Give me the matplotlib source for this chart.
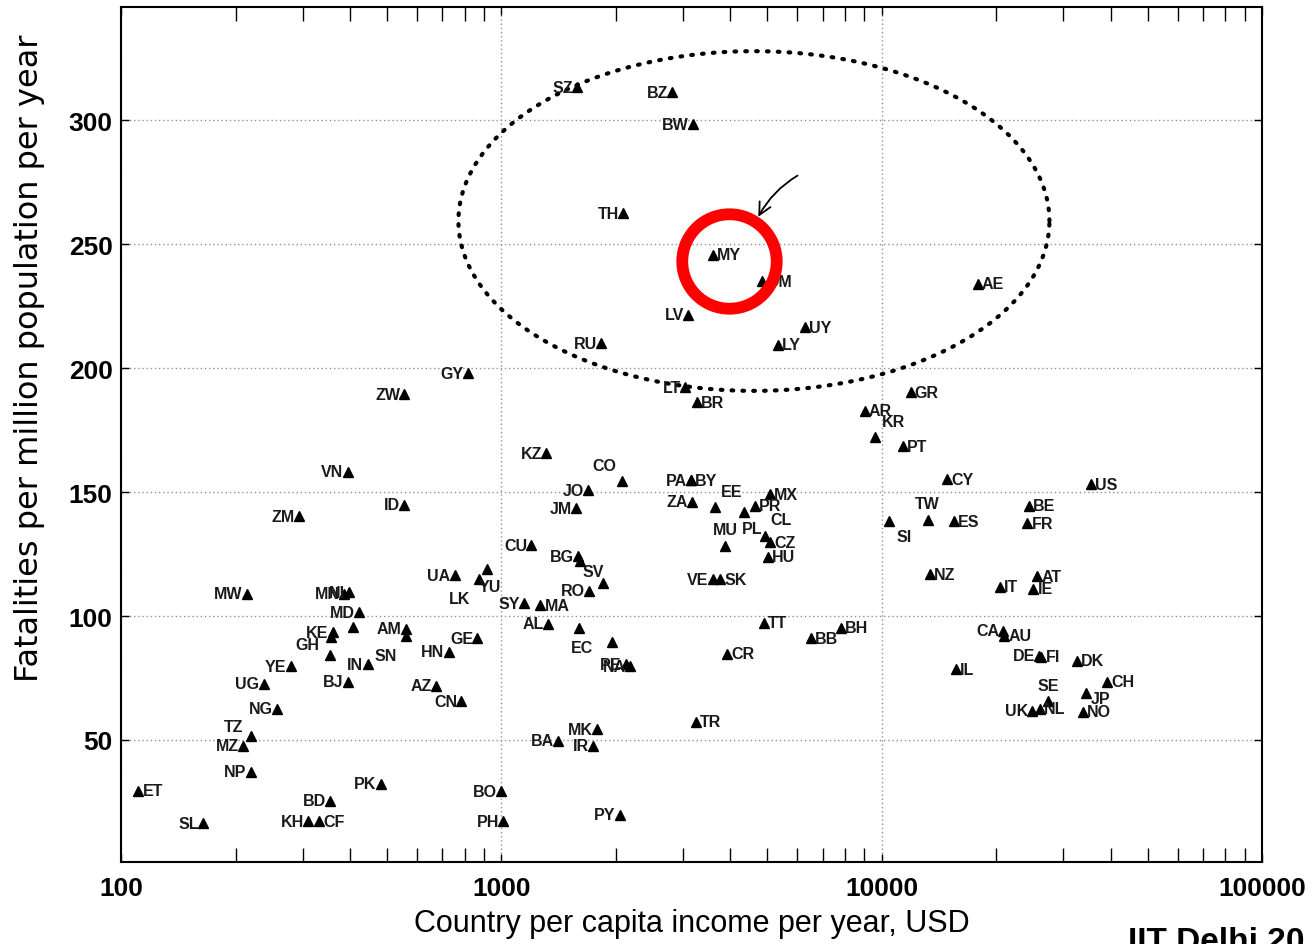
import numpy as np
import matplotlib
matplotlib.use('Agg')
import matplotlib.pyplot as plt
from matplotlib.ticker import LogLocator, NullFormatter, FixedLocator

plt.rcParams['font.family'] = ['Liberation Sans', 'DejaVu Sans']

# country codes, per capita income (USD) and fatalities per million per year
codes = ['ET', 'SL', 'MZ', 'TZ', 'NP', 'NG', 'UG', 'YE', 'MW', 'ZM',
         'VN', 'ID', 'MN', 'NI', 'MD', '', 'KE', 'GH', '', 'IN',
         'BJ', 'AM', 'SN', 'HN', 'GE', 'AZ', 'CN', 'BD', 'KH', 'CF',
         'PK', 'BO', 'PH', 'PY', 'BA', 'MK', 'IR', 'TR', 'CR', 'TT',
         'BB', 'BH', '', 'EC', 'PE', 'NA', 'AL', 'SY', 'MA', 'RO',
         '', 'BG', 'SV', 'CU', 'KZ', 'CO', 'JO', 'JM', 'PA', 'BY',
         'ZA', 'EE', 'CL', 'PR', 'MX', 'MU', 'PL', 'CZ', 'HU', 'VE',
         'SK', 'LV', 'MY', 'OM', 'UY', 'LY', 'TH', 'SZ', 'BZ', 'BW',
         'RU', 'LT', 'BR', 'GY', 'ZW', 'AR', 'KR', 'GR', 'PT', 'CY',
         'US', 'SI', 'TW', 'ES', 'BE', 'FR', 'NZ', 'IT', 'AT', 'IE',
         'CA', 'AU', 'DE', 'FI', 'DK', 'IL', 'CH', 'JP', 'SE', 'UK',
         'NL', 'NO', 'AE', 'LK', 'YU', 'UA']
income = [111, 164, 209, 219, 219, 257, 237, 279, 214, 293,
          394, 556, 385, 398, 422, 406, 360, 356, 354, 445,
          394, 560, 560, 726, 865, 675, 785, 354, 310, 331,
          481, 1000, 1010, 2051, 1413, 1786, 1743, 3250, 3917, 4897,
          6517, 7798, 1604, 1955, 2120, 2181, 1328, 1148, 1265, 1702,
          1853, 1592, 1610, 1199, 1312, 2079, 1691, 1574, 3153, 3153,
          3171, 3650, 4350, 4644, 5080, 3873, 4932, 5080, 5024, 3597,
          3758, 3098, 3597, 4842, 6280, 5334, 2089, 1582, 2810, 3190,
          1828, 3040, 3267, 815, 556, 9017, 9594, 11910, 11350, 14830,
          35560, 10420, 13210, 15460, 24320, 24150, 13360, 20420, 25650, 25040,
          20900, 21000, 25990, 26300, 32650, 15640, 39180, 34510, 27400, 24880,
          26000, 33730, 17860, 871, 919, 753]
fatal = [29.5, 16.5, 47.6, 51.6, 37.1, 62.5, 72.6, 79.8, 108.9, 140.3,
         158.1, 144.8, 108.9, 109.5, 101.6, 95.6, 93.5, 91.5, 84.3, 80.6,
         73.4, 94.8, 92.0, 85.5, 91.1, 71.8, 65.7, 25.4, 17.3, 17.3,
         32.3, 29.4, 17.3, 19.8, 49.6, 54.4, 47.6, 57.3, 84.7, 97.2,
         91.1, 95.2, 95.2, 89.5, 80.5, 79.8, 96.8, 105.2, 104.4, 110.1,
         113.3, 124.2, 122.0, 128.6, 165.7, 154.4, 150.8, 143.5, 154.8, 154.8,
         146.0, 144.0, 141.9, 144.4, 149.2, 128.2, 132.3, 129.8, 123.8, 114.9,
         114.9, 221.4, 245.6, 235.1, 216.5, 209.3, 262.5, 313.3, 311.3, 298.4,
         210.1, 192.3, 186.3, 198.0, 189.5, 182.7, 172.2, 190.3, 168.5, 155.2,
         153.2, 138.3, 138.7, 138.3, 144.4, 137.5, 116.9, 111.7, 116.1, 110.9,
         94.0, 92.0, 83.9, 83.5, 81.9, 78.6, 73.4, 69.0, 65.7, 61.7,
         62.5, 61.3, 233.9, 114.9, 119.0, 116.5]

# labels on the right of the marker; everything else sits on the left
right_side = ['ET', 'CF', 'TR', 'CR', 'TT', 'BB', 'BH', 'MA', 'BY', 'PR', 'MX',
              'CZ', 'HU', 'SK', 'MY', 'OM', 'UY', 'LY', 'BR', 'AR', 'GR', 'PT',
              'CY', 'US', 'ES', 'BE', 'FR', 'NZ', 'IT', 'AT', 'IE', 'AU', 'FI',
              'DK', 'IL', 'CH', 'NL', 'NO', 'AE']
# special offsets (points) and alignment
special = {'TZ': (-5, 7, 'right'), 'SN': (-6, -14, 'right'), 'GH': (-8, -5, 'right'),
           'SV': (2, -7, 'left'), 'EC': (-14, -4, 'right'), 'CO': (-4, 11, 'right'),
           'EE': (4, 11, 'left'), 'CL': (19, -5, 'left'), 'MU': (0, 12, 'center'),
           'PL': (-2, 5, 'right'), 'KR': (5, 11, 'left'), 'SI': (6, -11, 'left'),
           'TW': (0, 12, 'center'), 'JP': (3, -4, 'left'), 'SE': (0, 11, 'center'),
           'LK': (-6, -14, 'right'), 'YU': (2, -13, 'center')}

fig = plt.figure(figsize=(13.13, 9.45), dpi=100)
ax = fig.add_axes([0.0922, 0.0868, 0.869, 0.9047])

ax.set_xscale('log')
ax.set_xlim(100, 100000)
ax.set_ylim(0.8, 345.6)

ax.plot(income, fatal, linestyle='none', marker='^', markersize=7.5,
        color='black', zorder=3)

for c, xv, yv in zip(codes, income, fatal):
    if not c:
        continue
    if c in special:
        dx, dy, ha = special[c]
    elif c in right_side:
        dx, dy, ha = 3, 0, 'left'
    else:
        dx, dy, ha = -3, 0, 'right'
    ax.annotate(c, (xv, yv), xytext=(dx, dy), textcoords='offset points',
                ha=ha, va='center', fontsize=11.5, fontweight='bold',
                color='#1a1a1a', zorder=4)

# dotted ellipse round the high-fatality group
t = np.linspace(0, 2 * np.pi, 400)
ex = 10 ** (np.log10(4613) + 0.777 * np.cos(t))
ey = 259.3 + 68.5 * np.sin(t)
ax.plot(ex, ey, color='black', linestyle=(0, (0.4, 2.2)), linewidth=3,
        dash_capstyle='round', zorder=2)

# hand-drawn arrow to MY and red circle
ax.annotate('', xy=(4700, 260), xytext=(6095, 278.2),
            arrowprops=dict(arrowstyle='->', color='black', lw=1.3,
                            connectionstyle='arc3,rad=0.15',
                            mutation_scale=22))
ax.plot([3955], [243.1], marker='o', markersize=68, markerfacecolor='none',
        markeredgecolor='#ff0000', markeredgewidth=8.5, zorder=5)

# grid, ticks
ax.yaxis.set_major_locator(FixedLocator([50, 100, 150, 200, 250, 300]))
ax.xaxis.set_major_locator(FixedLocator([100, 1000, 10000, 100000]))
ax.xaxis.set_major_formatter(plt.FuncFormatter(lambda v, p: '%d' % v))
ax.xaxis.set_minor_locator(LogLocator(base=10, subs=np.arange(2, 10)))
ax.xaxis.set_minor_formatter(NullFormatter())
ax.grid(True, which='major', linestyle=(0, (1, 2)), color='#8a8fb0', linewidth=1)
ax.tick_params(which='both', direction='in', top=True, right=True)
ax.tick_params(which='major', length=6, width=1, labelsize=19, pad=10)
ax.tick_params(axis='y', which='major', pad=6)
ax.tick_params(which='minor', length=10, width=1)
for lab in ax.get_xticklabels() + ax.get_yticklabels():
    lab.set_fontweight('bold')
for s in ax.spines.values():
    s.set_linewidth(1.5)

ax.set_xlabel('Country per capita income per year, USD', fontsize=22, labelpad=6)
ax.set_ylabel('Fatalities per million population per year', fontsize=23,
              family=['DejaVu Sans'])
ax.yaxis.set_label_coords(-0.067, 0.59)

fig.text(1128 / 1313, -6 / 945, 'IIT Delhi 20', fontsize=24, fontweight='bold',
         ha='left', va='baseline')

fig.savefig('out.png', dpi=100)
